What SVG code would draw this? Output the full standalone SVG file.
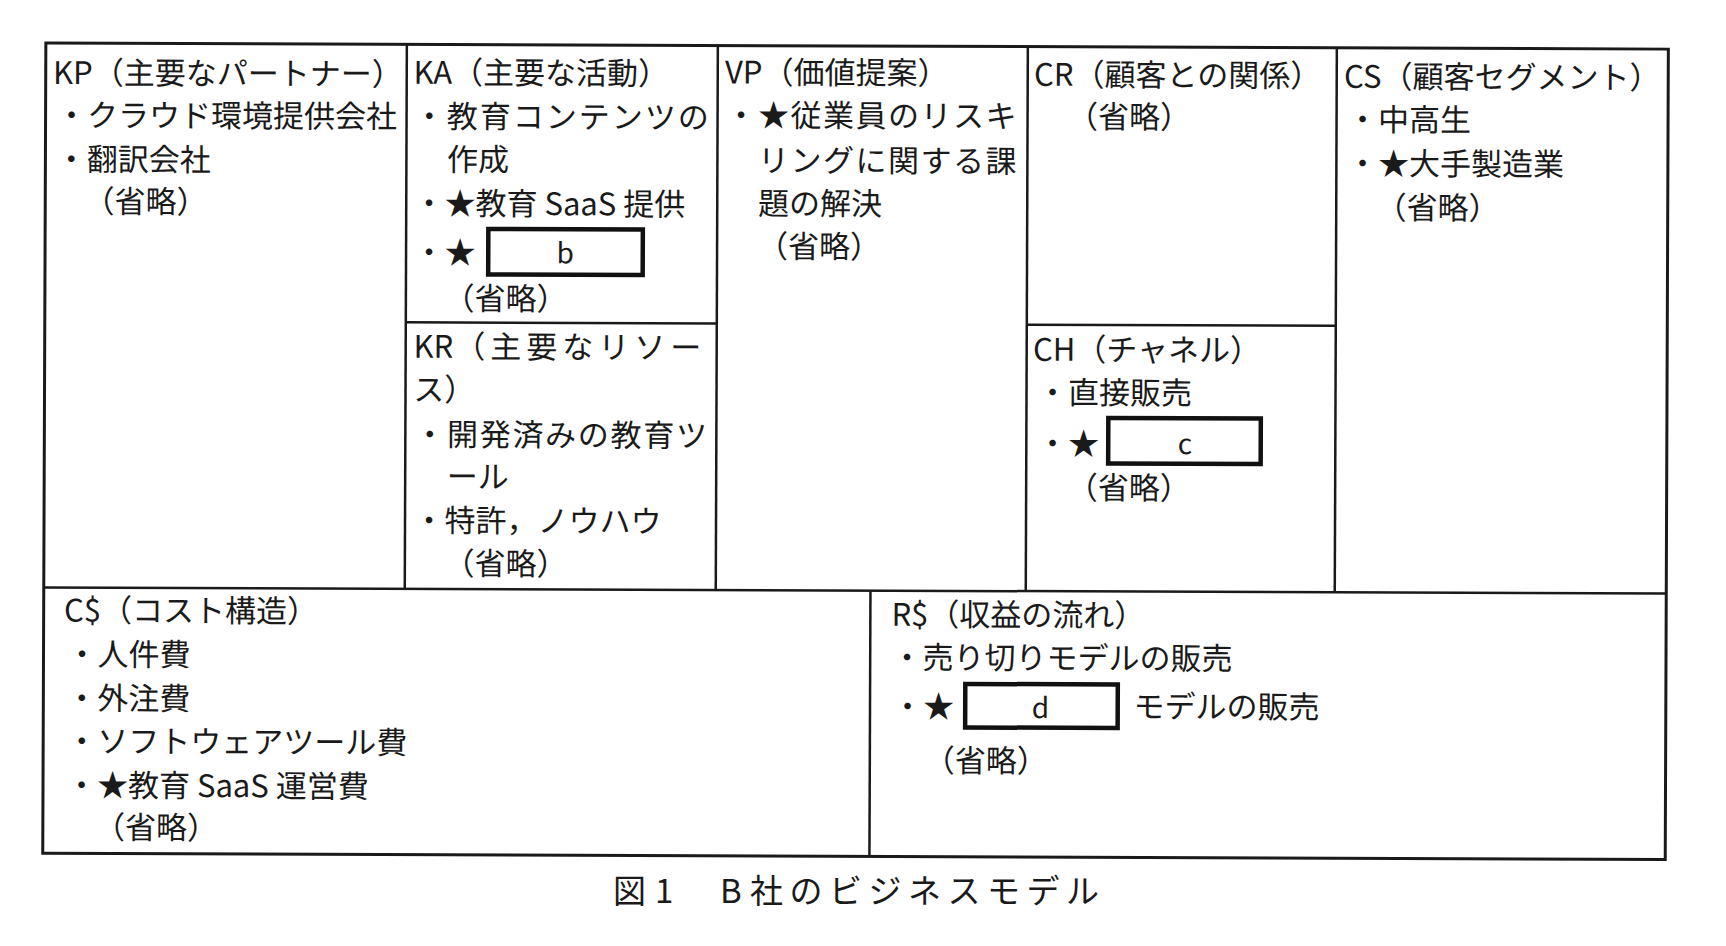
<svg xmlns="http://www.w3.org/2000/svg" width="1726" height="946" viewBox="0 0 1726 946">
<style>
text{font-family:"Noto Sans CJK JP","Noto Sans",sans-serif;font-size:31px;fill:#1a1a1a}
.ln{stroke:#1a1a1a;stroke-width:2.5;fill:none}
.outer{stroke:#1a1a1a;stroke-width:3;fill:none}
.blank{stroke:#111;stroke-width:4.5;fill:#fff}
.lt{font-size:28px;text-anchor:middle}
.cap{font-size:33px}
</style>
<rect width="1726" height="946" fill="#fff"/>
<g transform="rotate(0.22 855 450)">
<g id="grid">
<rect class="outer" x="44.3" y="46" width="1622.5" height="810.4"/>
<line class="ln" x1="405.3" y1="46" x2="405.3" y2="590.5"/>
<line class="ln" x1="716.3" y1="46" x2="716.3" y2="590.5"/>
<line class="ln" x1="1026.3" y1="46" x2="1026.3" y2="590.5"/>
<line class="ln" x1="1335.3" y1="46" x2="1335.3" y2="590.5"/>
<line class="ln" x1="871" y1="590.5" x2="871" y2="856.4"/>
<line class="ln" x1="405.3" y1="324" x2="716.3" y2="324"/>
<line class="ln" x1="1026.3" y1="324" x2="1335.3" y2="324"/>
<line class="ln" x1="44.3" y1="590.5" x2="1666.8" y2="590.5"/>
</g>
<g id="kp">
<text x="51.6" y="87">KP（主要なパートナー）</text>
<text x="54.7" y="129.5">・クラウド環境提供会社</text>
<text x="54.8" y="173.5">・翻訳会社</text>
<text x="82.5" y="215.5">（省略）</text>
</g>
<g id="ka">
<text x="412.1" y="85.4">KA（主要な活動）</text>
<text x="412.5" y="129.3" letter-spacing="2">・教育コンテンツの</text>
<text x="445.9" y="172.3">作成</text>
<text x="412.6" y="216.3">・★教育 SaaS 提供</text>
<text x="412.8" y="265.3">・★</text>
<rect class="blank" x="487.5" y="230.3" width="154.5" height="45.5"/>
<text class="lt" x="564.5" y="264.4">b</text>
<text x="443" y="311.3">（省略）</text>
</g>
<g id="kr">
<text x="413.1" y="359.4">KR<tspan x="454" letter-spacing="5">（主要なリソー</tspan></text>
<text x="413" y="402.4">ス）</text>
<text x="414.3" y="447.4" letter-spacing="1.7">・開発済みの教育ツ</text>
<text x="447" y="489.4">ール</text>
<text x="413.8" y="533.4">・特許，ノウハウ</text>
<text x="444" y="576.3">（省略）</text>
</g>
<g id="vp">
<text x="723.6" y="84">VP（価値提案）</text>
<text x="724.2" y="127" letter-spacing="1.5">・★従業員のリスキ</text>
<text x="756.9" y="172" letter-spacing="1.5">リングに関する課</text>
<text x="757" y="215">題の解決</text>
<text x="756.2" y="258">（省略）</text>
</g>
<g id="cr">
<text x="1032.6" y="85.1">CR（顧客との関係）</text>
<text x="1065.7" y="127.1">（省略）</text>
</g>
<g id="ch">
<text x="1032.6" y="360">CH（チャネル）</text>
<text x="1036.8" y="403.1">・直接販売</text>
<text x="1037" y="454.1">・★</text>
<rect class="blank" x="1108.2" y="417" width="152.5" height="45.5"/>
<text class="lt" x="1185" y="452.8">c</text>
<text x="1067" y="498.1">（省略）</text>
</g>
<g id="cs">
<text x="1342.6" y="85.9">CS（顧客セグメント）</text>
<text x="1345.7" y="128.9">・中高生</text>
<text x="1345.9" y="172.9">・★大手製造業</text>
<text x="1374.6" y="216.9">（省略）</text>
</g>
<g id="cost">
<text x="64.6" y="624.5">C$（コスト構造）</text>
<text x="67.3" y="668.5">・人件費</text>
<text x="67.3" y="712.5">・外注費</text>
<text x="67.3" y="755.5">・ソフトウェアツール費</text>
<text x="67.3" y="799.5">・★教育 SaaS 運営費</text>
<text x="95.4" y="841.5">（省略）</text>
</g>
<g id="revenue">
<text x="892.1" y="625.5">R$（収益の流れ）</text>
<text x="892.3" y="668.5">・売り切りモデルの販売</text>
<text x="893" y="717.5">・★</text>
<rect class="blank" x="966.2" y="683.5" width="152.5" height="43.5"/>
<text class="lt" x="1041.5" y="717.3">d</text>
<text x="1134.5" y="716.6">モデルの販売</text>
<text x="925" y="771.5">（省略）</text>
</g>
</g>
<g id="caption">
<text class="cap" x="613" y="903">図<tspan x="655">1</tspan><tspan x="720">B</tspan><tspan x="750" letter-spacing="6.5">社のビジネスモデル</tspan></text>
</g>
</svg>
